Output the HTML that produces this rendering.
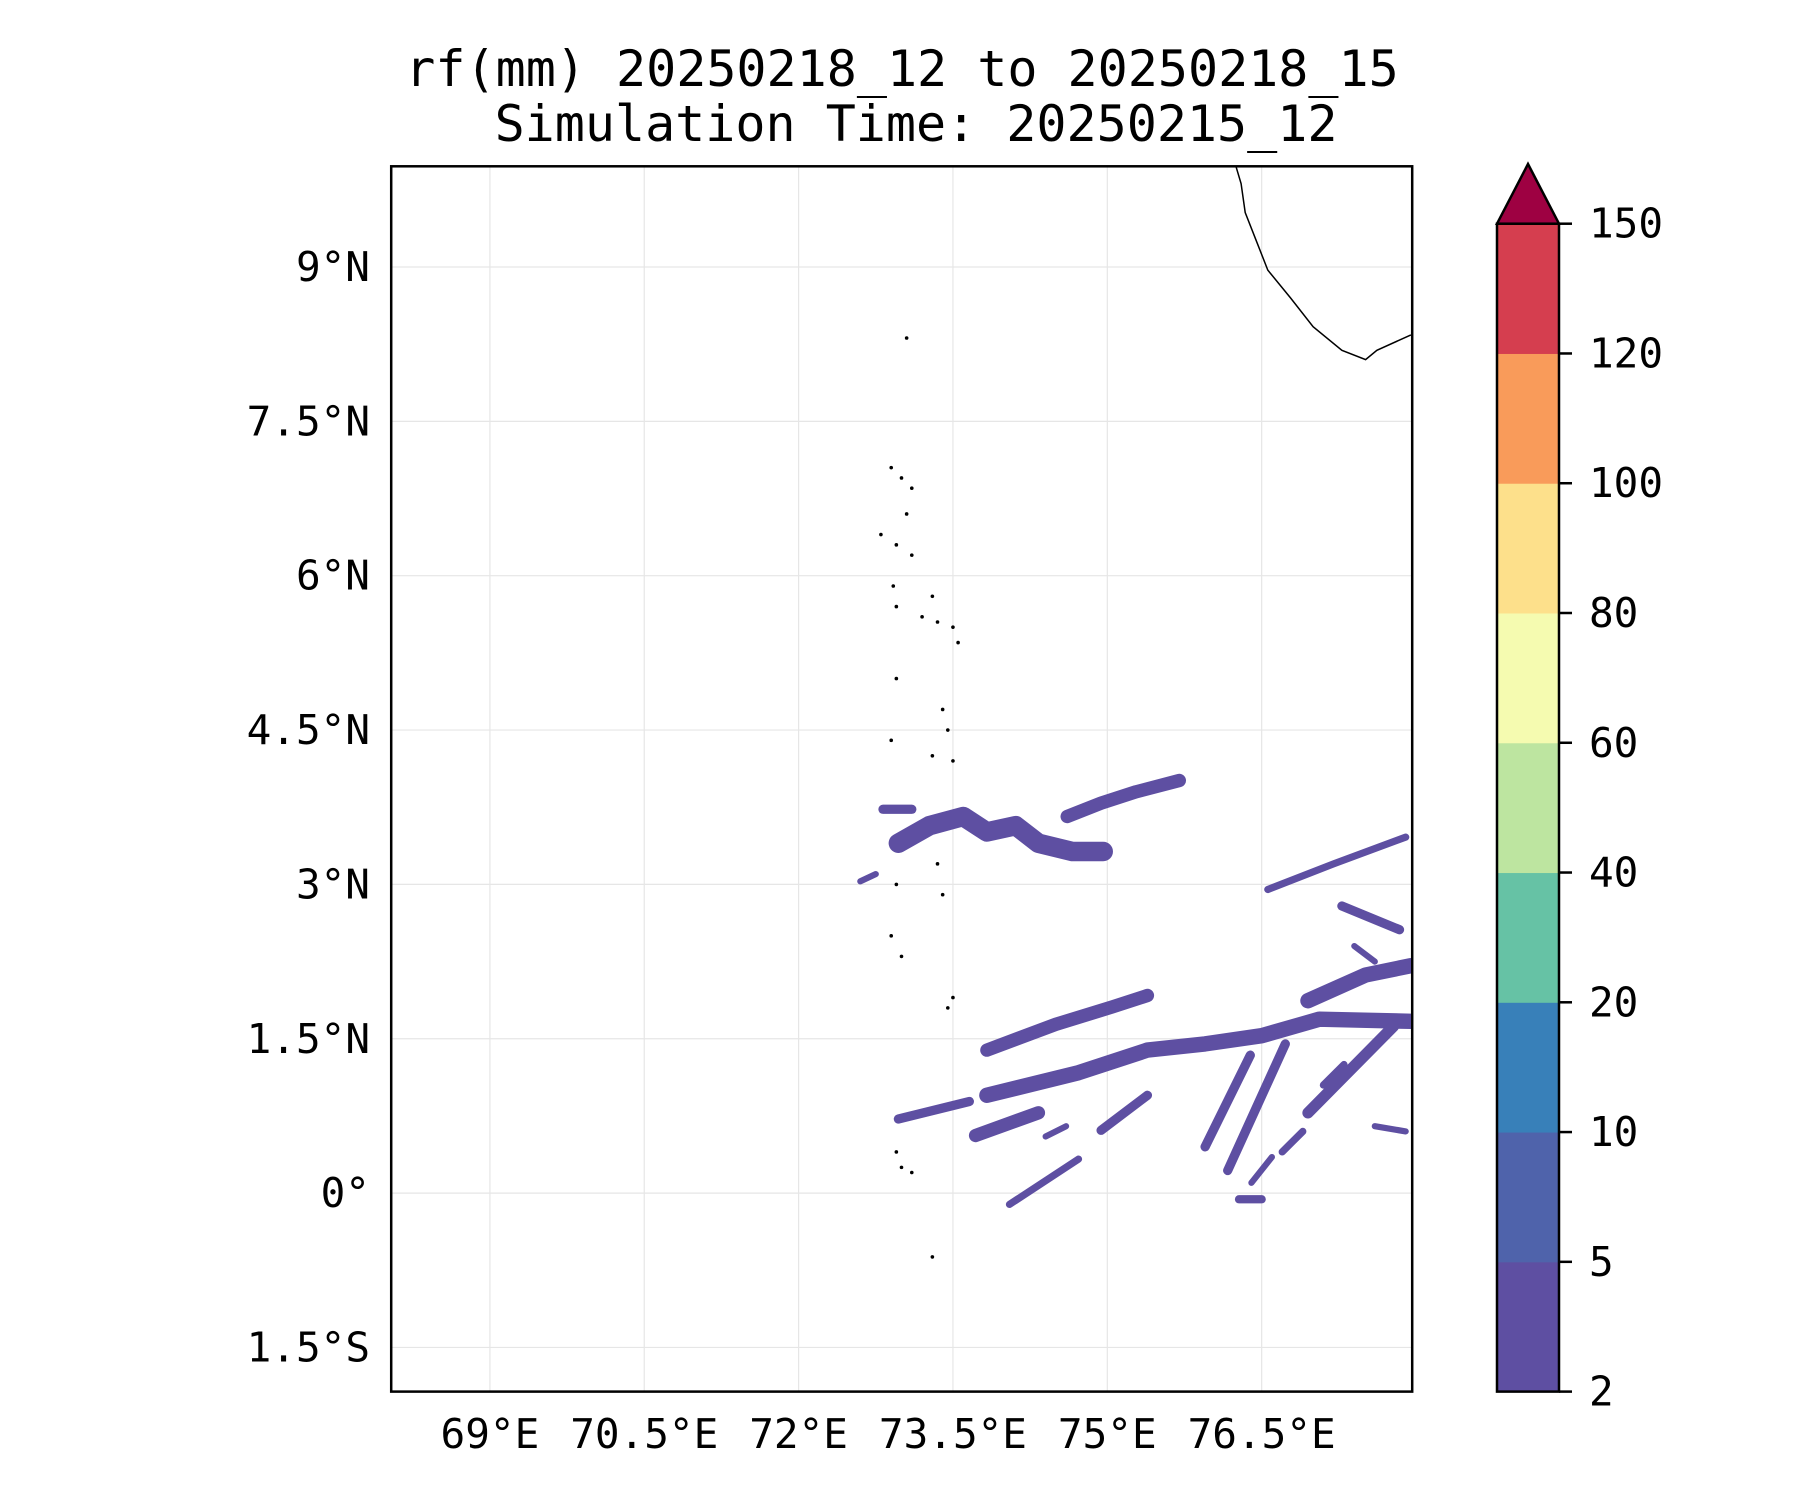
<!DOCTYPE html>
<html><head><meta charset="utf-8"><style>
html,body{margin:0;padding:0;background:#fff}
svg{display:block}
text{font-family:"DejaVu Sans Mono","Liberation Mono",monospace;fill:#000}
</style></head><body>
<svg id="chart" width="1800" height="1500" viewBox="0 0 1800 1500" xmlns="http://www.w3.org/2000/svg">
<text x="902" y="86" font-size="50" text-anchor="middle">rf(mm) 20250218_12 to 20250218_15</text>
<text x="916" y="141" font-size="50" text-anchor="middle">Simulation Time: 20250215_12</text>
<defs><clipPath id="clip"><rect x="391.2" y="166.3" width="1021" height="1225.3"/></clipPath></defs>
<g id="grid"></g>
<g id="rain" clip-path="url(#clip)"></g>
<g id="coast" clip-path="url(#clip)"></g>
<rect x="391.2" y="166.3" width="1021" height="1225.3" fill="none" stroke="#000" stroke-width="2.5"/>
<g id="ticks"></g>
<g id="cbar"></g>
</svg>
<script>
const lonTicks=[69,70.5,72,73.5,75,76.5];
const lonLabels=["69°E","70.5°E","72°E","73.5°E","75°E","76.5°E"];
const latTicks=[9,7.5,6,4.5,3,1.5,0,-1.5];
const latLabels=["9°N","7.5°N","6°N","4.5°N","3°N","1.5°N","0°","1.5°S"];
const cbLevels=[2,5,10,20,40,60,80,100,120,150];
const cbColors=["#5e4fa2","#4f63ab","#3880b9","#66c2a5","#bde5a0","#f5fbb0","#fde08b","#f99b5a","#d53e4f"];
const cbExtendColor="#9e0142";
// rain bands: [lon,lat] paths, width in degrees
const bandPaths=[
 [[72.97,3.40],[73.27,3.57],[73.60,3.66],[73.83,3.51],[74.11,3.57],[74.33,3.40],[74.66,3.32],[74.96,3.32]],
 [[74.61,3.66],[74.94,3.79],[75.28,3.90],[75.70,4.01]],
 [[73.83,0.95],[74.72,1.17],[75.39,1.39],[75.95,1.45],[76.50,1.53],[77.06,1.69],[77.95,1.67]],
 [[73.83,1.39],[74.50,1.64],[75.05,1.81],[75.39,1.92]],
 [[76.95,1.87],[77.51,2.12],[77.95,2.21]],
 [[77.78,1.62],[76.95,0.78]],
 [[76.73,1.45],[76.17,0.22]],
 [[76.39,1.34],[75.95,0.45]],
 [[73.72,0.56],[74.33,0.78]],
 [[72.97,0.72],[73.66,0.89]],
 [[74.05,-0.11],[74.72,0.33]],
 [[74.94,0.61],[75.39,0.95]],
 [[76.56,2.95],[77.20,3.20],[77.90,3.46]],
 [[77.28,2.79],[77.84,2.56]],
 [[72.82,3.73],[73.10,3.73]],
 [[76.28,-0.06],[76.50,-0.06]],
 [[72.60,3.03],[72.75,3.10]],
 [[76.40,0.10],[76.60,0.35]],
 [[77.60,0.65],[77.90,0.60]],
 [[77.30,1.25],[77.10,1.05]],
 [[76.90,0.60],[76.70,0.40]],
 [[74.40,0.55],[74.60,0.65]],
 [[77.40,2.40],[77.60,2.25]]
];
const bandWidths=[0.19,0.13,0.15,0.13,0.15,0.11,0.09,0.09,0.13,0.09,0.07,0.09,0.07,0.09,0.09,0.08,0.06,0.06,0.06,0.07,0.07,0.06,0.06];
const coastLon=[76.25,76.30,76.34,76.45,76.56,76.78,77.00,77.28,77.51,77.62,77.95];
const coastLat=[9.98,9.81,9.53,9.25,8.97,8.70,8.42,8.19,8.10,8.19,8.34];
const islandLon=[73.05,72.9,73.0,73.1,73.05,72.8,72.95,73.1,72.92,72.95,73.3,73.35,73.2,73.5,73.55,72.95,73.4,73.45,73.5,73.3,72.9,72.95,73.35,73.4,72.9,73.0,73.5,73.45,72.95,73.0,73.1,73.3];
const islandLat=[8.31,7.05,6.95,6.85,6.6,6.4,6.3,6.2,5.9,5.7,5.8,5.55,5.6,5.5,5.35,5.0,4.7,4.5,4.2,4.25,4.4,3.0,3.2,2.9,2.5,2.3,1.9,1.8,0.4,0.25,0.2,-0.62];
const NS="http://www.w3.org/2000/svg";
const X=lon=>489.9+(lon-69)*102.9, Y=lat=>1193.1-lat*102.9;
function mk(tag,attrs,parent){const e=document.createElementNS(NS,tag);for(const k in attrs)e.setAttribute(k,attrs[k]);parent.appendChild(e);return e;}
const grid=document.getElementById('grid'),ticks=document.getElementById('ticks');
lonTicks.forEach((v,i)=>{
 const l=mk('line',{x1:X(v),x2:X(v),y1:166,y2:1391,stroke:'#e6e6e6','stroke-width':1.2},grid);
 
 
 const t=mk('text',{x:X(v),y:1448,'font-size':41,'text-anchor':'middle'},ticks);t.textContent=lonLabels[i];
 
 
});
latTicks.forEach((v,i)=>{
 const l=mk('line',{x1:391,x2:1412,y1:Y(v),y2:Y(v),stroke:'#e6e6e6','stroke-width':1.2},grid);
 
 
 const t=mk('text',{x:370,y:Y(v)+14,'font-size':41,'text-anchor':'end'},ticks);t.textContent=latLabels[i];
 
 
});
const rain=document.getElementById('rain');
bandPaths.forEach((p,i)=>{
 const d=p.map((q,j)=>(j?'L':'M')+X(q[0]).toFixed(1)+' '+Y(q[1]).toFixed(1)).join(' ');
 const e=mk('path',{d:d,fill:'none',stroke:cbColors[0],'stroke-width':bandWidths[i]*102.9,'stroke-linecap':'round','stroke-linejoin':'round'},rain);
 
 
});
const coast=document.getElementById('coast');
const cd=coastLon.map((v,j)=>(j?'L':'M')+X(v).toFixed(1)+' '+Y(coastLat[j]).toFixed(1)).join(' ');
const cl=mk('path',{d:cd,fill:'none',stroke:'#000','stroke-width':1.5},coast);


islandLon.forEach((v,i)=>{
 const c=mk('circle',{cx:X(v),cy:Y(islandLat[i]),r:1.8,fill:'#000'},coast);
 
 
});
const cb=document.getElementById('cbar');
const cbTop=223.7,cbBot=1391.6,cbL=1497,cbR=1559,n=cbLevels.length-1,h=(cbBot-cbTop)/n;
cbColors.forEach((c,i)=>{
 const r=mk('rect',{x:cbL,y:cbBot-(i+1)*h,width:cbR-cbL,height:h+0.5,fill:c},cb);
 
 
});
const tri=mk('polygon',{points:`${cbL},${cbTop} ${cbR},${cbTop} ${(cbL+cbR)/2},164`,fill:cbExtendColor,stroke:'#000','stroke-width':2.5},cb);


const fr=mk('rect',{x:cbL,y:cbTop,width:cbR-cbL,height:cbBot-cbTop,fill:'none',stroke:'#000','stroke-width':2.5},cb);


cbLevels.forEach((v,i)=>{
 const y=cbBot-i*h;
 const l=mk('line',{x1:cbR,x2:cbR+13,y1:y,y2:y,stroke:'#000','stroke-width':2.5},cb);
 
 
 const t=mk('text',{x:1589,y:y+14,'font-size':41},cb);t.textContent=v;
 
 
});
</script>
</body></html>
